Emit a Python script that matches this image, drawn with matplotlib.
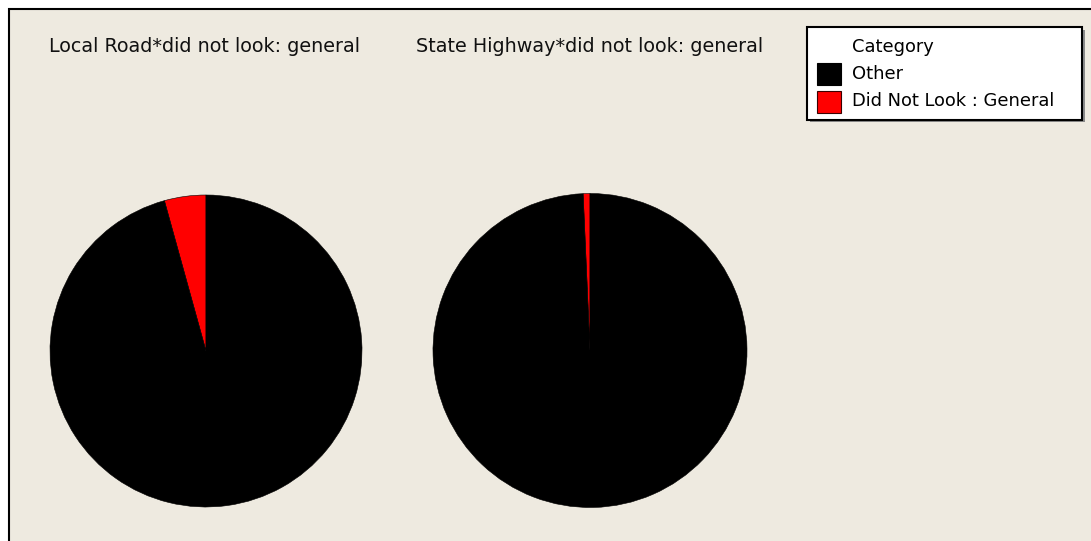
import matplotlib
matplotlib.use("Agg")
import matplotlib.pyplot as plt
from matplotlib.patches import Rectangle

# Category shares per road type (percent)
categories = ["Other", "Did Not Look : General"]
colors = ["#000000", "#FF0000"]
panel_titles = ["Local Road*did not look: general", "State Highway*did not look: general"]
local_road = [95.7, 4.3]
state_highway = [99.3, 0.7]
legend_title = "Category"

W, H = 1091, 541
BG = "#EEEAE0"
fig = plt.figure(figsize=(W / 100, H / 100), dpi=100)
fig.patch.set_facecolor("white")


def fx(x):
    return x / W


def fy(y):
    return 1 - y / H


# Panel background with frame
fig.patches.append(Rectangle((fx(9), fy(560)), (1100 - 9) / W, (560 - 9) / H,
                             transform=fig.transFigure, facecolor=BG,
                             edgecolor="black", linewidth=1.5, zorder=-5))

font = "DejaVu Sans"


def pie_axes(cx, cy, r):
    return fig.add_axes([fx(cx - r), fy(cy + r), 2 * r / W, 2 * r / H])


for (cx, cy, r), vals, title, tx in [((206, 351, 156), local_road, panel_titles[0], 49),
                                    ((590, 350.5, 157), state_highway, panel_titles[1], 416)]:
    ax = pie_axes(cx, cy, r)
    ax.set_zorder(1)
    # red share first so it opens counter-clockwise from 12 o'clock
    ax.pie(vals[::-1], colors=colors[::-1], startangle=90, counterclock=True,
           radius=1, wedgeprops=dict(edgecolor="#000000", linewidth=0.4))
    ax.set_xlim(-1, 1)
    ax.set_ylim(-1, 1)
    ax.set_aspect("equal")
    ax.axis("off")
    fig.text(fx(tx), fy(46), title, fontsize=13.8, family=font,
             ha="left", va="center", color="#111111")

# Legend box
shadow = Rectangle((fx(810), fy(122)), (1085 - 810) / W, (122 - 30) / H,
                   transform=fig.transFigure, facecolor="#8a8a8a",
                   edgecolor="none", zorder=2)
box = Rectangle((fx(807), fy(120)), (1082 - 807) / W, (120 - 27) / H,
                transform=fig.transFigure, facecolor="white",
                edgecolor="black", linewidth=1.5, zorder=3)
fig.patches.extend([shadow, box])
fig.text(fx(852), fy(47), legend_title, fontsize=12.9, family=font,
         ha="left", va="center", zorder=4)
for i, (cat, col) in enumerate(zip(categories, colors)):
    yc = 74 + i * 27.5
    fig.patches.append(Rectangle((fx(817), fy(yc + 11)), 24 / W, 22 / H,
                                 transform=fig.transFigure, facecolor=col,
                                 edgecolor="#3a0000" if i else "black",
                                 linewidth=0.8, zorder=4))
    fig.text(fx(852), fy(yc), cat, fontsize=12.9, family=font,
             ha="left", va="center", zorder=4)

fig.savefig("out.png", dpi=100, facecolor=fig.get_facecolor())
